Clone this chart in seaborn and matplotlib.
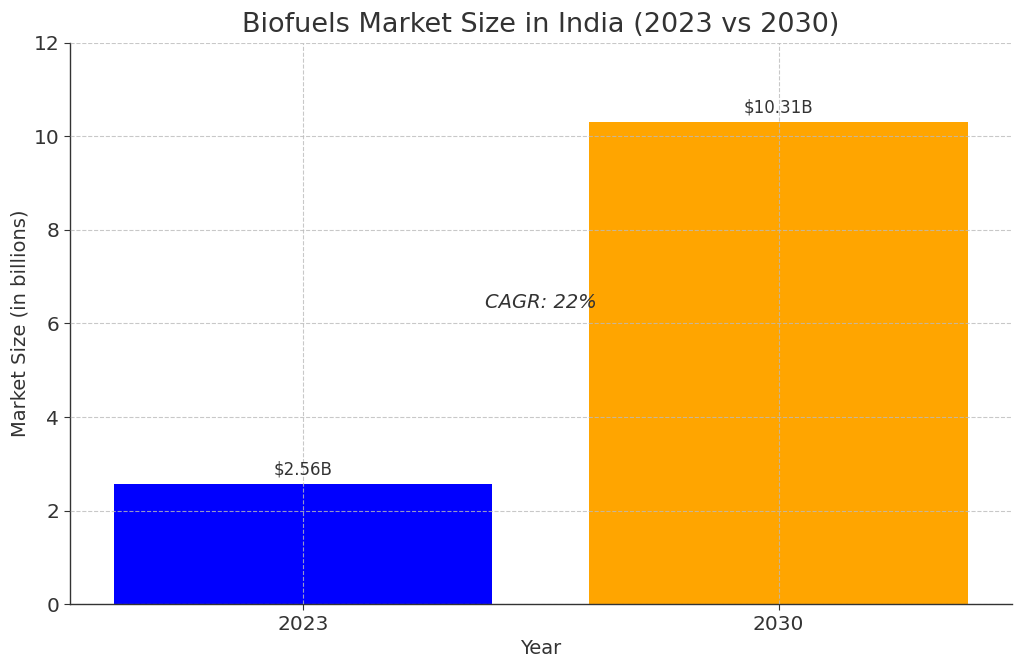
import matplotlib
matplotlib.use("Agg")
import matplotlib.pyplot as plt
import seaborn as sns
import pandas as pd

years = ["2023", "2030"]
market_size = [2.56, 10.31]
bar_colors = ["blue", "orange"]
value_labels = ["$2.56B", "$10.31B"]
cagr_text = "CAGR: 22%"

df = pd.DataFrame({"Year": years, "Size": market_size})

sns.set_style("white")
plt.rcParams['font.family'] = ['DejaVu Sans']
text_color = "#333333"

fig = plt.figure(figsize=(10.24, 6.69), dpi=100)
ax = fig.add_axes([0.068, 0.097, 0.920, 0.839])

sns.barplot(data=df, x="Year", y="Size", hue="Year", palette=bar_colors,
            width=0.795, saturation=1, legend=False, linewidth=0, ax=ax)

ax.set_ylim(0, 12)
ax.set_xlim(-0.49, 1.49)
ax.set_yticks(range(0, 13, 2))
ax.grid(True, linestyle="--", color="#bbbbbb", linewidth=0.8, alpha=0.8)
ax.set_axisbelow(False)

for i, (v, lab) in enumerate(zip(market_size, value_labels)):
    ax.text(i, v + 0.12, lab, ha="center", va="bottom", fontsize=12, color=text_color)

ax.text(0.5, 6.45, cagr_text, ha="center", va="center", fontsize=14,
        style="italic", color=text_color)

ax.set_title("Biofuels Market Size in India (2023 vs 2030)", fontsize=19.5,
             color=text_color, pad=8)
ax.set_xlabel("Year", fontsize=14, color=text_color)
ax.set_ylabel("Market Size (in billions)", fontsize=14, color=text_color, labelpad=3)
ax.tick_params(axis="both", labelsize=14.5, colors=text_color, length=4, left=True, bottom=True)
for side in ["top", "right"]:
    ax.spines[side].set_visible(False)
for side in ["left", "bottom"]:
    ax.spines[side].set_color(text_color)
    ax.spines[side].set_linewidth(1.0)

fig.savefig("out.png", dpi=100)
